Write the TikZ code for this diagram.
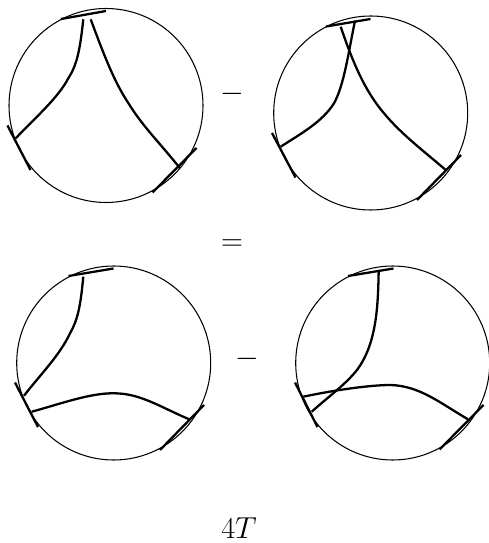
\documentclass[tikz,border=0pt]{standalone}
\begin{document}
\begin{tikzpicture}[
    x=0.02cm, y=-0.02cm,
    disc/.style={draw, line width=0.6pt},
    chord/.style={draw, line width=1.3pt},
    strand/.style={draw, line width=1.3pt},
    sign/.style={font=\fontsize{19}{21}\selectfont, inner sep=0pt}
]
\useasboundingbox (0, 0) rectangle (488, 543);

% ============================
% ROW 1: upper two circles
% ============================

% --- Upper left ---
\coordinate (ulC) at (106, 105.5);
\draw[disc] (ulC) circle (97);
\coordinate (ulTopA) at (61, 19);
\coordinate (ulTopB) at (106, 11);
\coordinate (ulLeftA) at (7.5, 125.5);
\coordinate (ulLeftB) at (30.5, 170);
\coordinate (ulRightA) at (196.5, 148);
\coordinate (ulRightB) at (152.5, 192.5);
\coordinate (ulS1) at (83.3, 19.3);
\coordinate (ulE1) at (15.7, 138.3);
\coordinate (ulS2) at (90.7, 19.3);
\coordinate (ulE2) at (180, 168.3);
\draw[chord] (ulTopA) -- (ulTopB);
\draw[chord] (ulLeftA) -- (ulLeftB);
\draw[chord] (ulRightA) -- (ulRightB);
\draw[strand] (ulS1) .. controls (80, 50) and (77, 65) .. (68.3, 78.3) .. controls (58, 98) and (35, 118) .. (ulE1);
\draw[strand] (ulS2) .. controls (105, 58) and (115, 83) .. (128.3, 103) .. controls (143, 127) and (160, 143) .. (ulE2);

% --- Upper right ---
\coordinate (urC) at (370.7, 113);
\draw[disc] (urC) circle (97);
\coordinate (urTopA) at (326, 26.5);
\coordinate (urTopB) at (370.5, 19);
\coordinate (urLeftA) at (272, 133);
\coordinate (urLeftB) at (295.5, 177.5);
\coordinate (urRightA) at (461, 155);
\coordinate (urRightB) at (417, 200);
\coordinate (urS1) at (355, 20.7);
\coordinate (urE1) at (280.7, 146.7);
\coordinate (urS2) at (340.7, 26.7);
\coordinate (urE2) at (445.7, 170);
\draw[chord] (urTopA) -- (urTopB);
\draw[chord] (urLeftA) -- (urLeftB);
\draw[chord] (urRightA) -- (urRightB);
\draw[strand] (urS1) .. controls (348, 55) and (344, 85) .. (334, 103.3) .. controls (322, 122) and (302, 133) .. (urE1);
\draw[strand] (urS2) .. controls (352, 60) and (364, 90) .. (384, 113.3) .. controls (402, 135) and (425, 152) .. (urE2);

% ============================
% ROW 2: lower two circles
% ============================

% --- Lower left ---
\coordinate (llC) at (113.7, 363);
\draw[disc] (llC) circle (97);
\coordinate (llTopA) at (68.5, 276);
\coordinate (llTopB) at (113.5, 268.5);
\coordinate (llLeftA) at (15, 382.5);
\coordinate (llLeftB) at (38, 427);
\coordinate (llRightA) at (204, 405);
\coordinate (llRightB) at (160, 450);
\coordinate (llS1) at (83.3, 276.7);
\coordinate (llE1) at (24, 395.7);
\coordinate (llS2) at (31.7, 411.7);
\coordinate (llE2) at (189.3, 419.3);
\draw[chord] (llTopA) -- (llTopB);
\draw[chord] (llLeftA) -- (llLeftB);
\draw[chord] (llRightA) -- (llRightB);
\draw[strand] (llS1) .. controls (81, 300) and (79, 318) .. (70, 333.3) .. controls (60, 355) and (40, 375) .. (llE1);
\draw[strand] (llS2) .. controls (60, 404) and (90, 393) .. (113.3, 393.3) .. controls (140, 393) and (160, 407) .. (llE2);

% --- Lower right ---
\coordinate (lrC) at (392.7, 363);
\draw[disc] (lrC) circle (97);
\coordinate (lrTopA) at (348, 276);
\coordinate (lrTopB) at (393.5, 268.5);
\coordinate (lrLeftA) at (295, 382.5);
\coordinate (lrLeftB) at (317.5, 427);
\coordinate (lrRightA) at (483.5, 405);
\coordinate (lrRightB) at (439.5, 449.5);
\coordinate (lrS1) at (378.7, 270);
\coordinate (lrE1) at (311.7, 411.7);
\coordinate (lrS2) at (303.3, 396.7);
\coordinate (lrE2) at (468, 419.3);
\draw[chord] (lrTopA) -- (lrTopB);
\draw[chord] (lrLeftA) -- (lrLeftB);
\draw[chord] (lrRightA) -- (lrRightB);
\draw[strand] (lrS1) .. controls (378, 305) and (377, 343) .. (357, 370) .. controls (345, 385) and (328, 397) .. (lrE1);
\draw[strand] (lrS2) .. controls (335, 390) and (370, 385) .. (390.7, 385) .. controls (420, 386) and (440, 403) .. (lrE2);

% ============================
% SIGNS
% ============================
\node[sign] (minusA) at (232, 94) {$-$};
\node[sign] (equals) at (232, 245.5) {$=$};
\node[sign] (minusB) at (247, 359) {$-$};
\node[sign] (label) at (239, 528) {$4T$};

\end{tikzpicture}
\end{document}
